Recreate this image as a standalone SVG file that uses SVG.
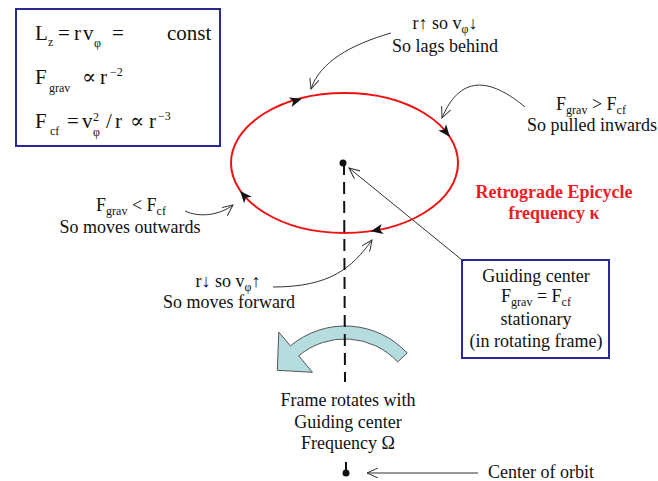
<svg xmlns="http://www.w3.org/2000/svg" width="658" height="481" viewBox="0 0 658 481">
<defs>
<style>
text{font-family:"Liberation Serif","DejaVu Serif",serif;fill:#111;}
.eq{font-size:21px;}
.lbl{font-size:18px;text-anchor:middle;}
.sub{font-size:12px;}
.sup{font-size:12px;}
.box{fill:#fff;stroke:#2a2a96;stroke-width:2;}
.con{fill:none;stroke:#333;stroke-width:1;}
.head{fill:#111;}
</style>
<marker id="open" viewBox="0 0 12 10" refX="11" refY="5" markerWidth="12" markerHeight="10" markerUnits="userSpaceOnUse" orient="auto">
<path d="M0,0 L11,5 L0,10" fill="none" stroke="#333" stroke-width="1"/>
</marker>
<path id="bh" d="M6,0 L-6,-5 L-3,0 L-6,5 Z"/>
</defs>
<rect width="658" height="481" fill="#fff"/>

<g id="equations">
<rect class="box" x="16" y="9" width="204" height="137"/>
<text class="eq" y="40"><tspan x="35">L</tspan><tspan class="sub" x="48" y="46">z</tspan><tspan x="58" y="40">=</tspan><tspan x="74">r</tspan><tspan x="83">v</tspan><tspan class="sub" x="94" y="47">φ</tspan><tspan x="112" y="40">=</tspan><tspan x="167">const</tspan></text>
<text class="eq" y="84"><tspan x="35">F</tspan><tspan class="sub" x="49" y="92">grav</tspan><tspan x="82" y="84">∝</tspan><tspan x="100">r</tspan><tspan class="sup" x="110" y="76">−2</tspan></text>
<text class="eq" y="128"><tspan x="35">F</tspan><tspan class="sub" x="50" y="135">cf</tspan><tspan x="67" y="128">=</tspan><tspan x="82">v</tspan><tspan class="sup" x="93" y="121">2</tspan><tspan class="sub" x="93" y="136">φ</tspan><tspan x="106" y="128">/</tspan><tspan x="115">r</tspan><tspan x="130">∝</tspan><tspan x="149">r</tspan><tspan class="sup" x="158" y="120">−3</tspan></text>
</g>

<g id="blue-arrow">
<path d="M407.2,353 A85,85 0 0 0 290.4,345.9 L278.8,332.1 L277.3,370.3 L312.5,372.3 L298.7,355.8 A72,72 0 0 1 397.7,361.9 Z" fill="#b5dde0" stroke="#555" stroke-width="1"/>
</g>

<g id="connectors">
<path class="con" d="M391,33 C350,45 320,62 311,89" marker-end="url(#open)"/>
<path class="con" d="M525,107 C495,82 462,70 442,118" marker-end="url(#open)"/>
<path class="con" d="M185,211 C200,218 220,215 233,205" marker-end="url(#open)"/>
<path class="con" d="M273,287 C330,287 352,268 372,240" marker-end="url(#open)"/>
<path class="con" d="M462,260 L349,168" marker-end="url(#open)"/>
<path class="con" d="M478,473 L367,473" marker-end="url(#open)"/>
<path d="M344,163 L345,382" fill="none" stroke="#111" stroke-width="2" stroke-dasharray="12 7"/>
<path d="M346,462 L346,473" fill="none" stroke="#111" stroke-width="2"/>
</g>

<g id="orbit">
<ellipse cx="344.5" cy="163" rx="113.5" ry="70" fill="none" stroke="#ee1111" stroke-width="2"/>
<use href="#bh" class="head" transform="translate(296,100.5) rotate(-16.7)"/>
<use href="#bh" class="head" transform="translate(446,132) rotate(51)"/>
<use href="#bh" class="head" transform="translate(376.7,230.1) rotate(169.6)"/>
<use href="#bh" class="head" transform="translate(244,195.5) rotate(-130.8)"/>
</g>

<g id="guiding-dot"><circle cx="343" cy="163" r="3.5" fill="#111"/></g>
<g id="center-dot"><circle cx="346" cy="473" r="3.5" fill="#111"/></g>

<g id="lag-label">
<text class="lbl" x="445" y="29">r↑ so v<tspan class="sub" dy="4">φ</tspan><tspan dy="-4">↓</tspan></text>
<text class="lbl" x="445" y="52">So lags behind</text>
</g>
<g id="inward-label">
<text class="lbl" x="591" y="110">F<tspan class="sub" dy="4">grav</tspan><tspan dy="-4"> &gt; F</tspan><tspan class="sub" dy="4">cf</tspan></text>
<text class="lbl" x="592" y="131">So pulled inwards</text>
</g>
<g id="outward-label">
<text class="lbl" x="131" y="211">F<tspan class="sub" dy="4">grav</tspan><tspan dy="-4"> &lt; F</tspan><tspan class="sub" dy="4">cf</tspan></text>
<text class="lbl" x="130" y="233">So moves outwards</text>
</g>
<g id="forward-label">
<text class="lbl" x="228" y="287">r↓ so v<tspan class="sub" dy="4">φ</tspan><tspan dy="-4">↑</tspan></text>
<text class="lbl" x="229" y="308">So moves forward</text>
</g>
<g id="epicycle-label">
<text class="lbl" x="554" y="198" style="fill:#ee1c24;font-weight:bold">Retrograde Epicycle</text>
<text class="lbl" x="554" y="219" style="fill:#ee1c24;font-weight:bold">frequency κ</text>
</g>
<g id="guiding-center">
<rect class="box" x="462" y="260" width="147" height="98"/>
<text class="lbl" x="536" y="282">Guiding center</text>
<text class="lbl" x="536" y="302">F<tspan class="sub" dy="4">grav</tspan><tspan dy="-4"> = F</tspan><tspan class="sub" dy="4">cf</tspan></text>
<text class="lbl" x="536" y="325">stationary</text>
<text class="lbl" x="536" y="347">(in rotating frame)</text>
</g>
<g id="frame-label">
<text class="lbl" x="348" y="406">Frame rotates with</text>
<text class="lbl" x="348" y="428">Guiding center</text>
<text class="lbl" x="348" y="449">Frequency Ω</text>
</g>
<g id="orbit-center-label">
<text x="488" y="478" style="font-size:18px">Center of orbit</text>
</g>
</svg>
